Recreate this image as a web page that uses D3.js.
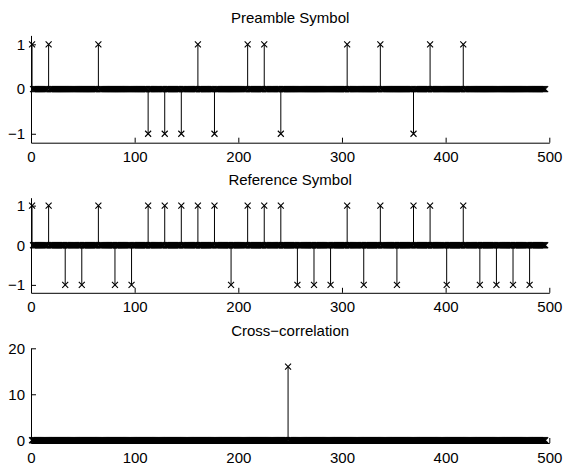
<!DOCTYPE html>
<html>
<head>
<meta charset="utf-8">
<script src="https://cdn.jsdelivr.net/npm/d3@7"></script>
<style>
  body { margin: 0; background: #fff; }
  svg { display: block; font-family: "Liberation Sans", Arial, sans-serif; }
  .tick text { font-size: 15px; fill: #000; }
  .domain, .tick line { stroke: #000; }
</style>
</head>
<body>
<svg id="chart" width="563" height="466"></svg>
<script>
// signal length and chip spacing (samples 1..496)
var sampleCount = 496;
var chipPositions = [1, 17, 33, 49, 65, 81, 97, 113, 129, 145, 161, 177, 193, 209, 225, 241,
    257, 273, 289, 305, 321, 337, 353, 369, 385, 401, 417, 433, 449, 465, 481];

// chip values
var preambleChips = [1, 1, 0, 0, 1, 0, 0, -1, -1, -1, 1, -1, 0, 1, 1, -1,
    0, 0, 0, 1, 0, 1, 0, -1, 1, 0, 1, 0, 0, 0, 0];
var referenceChips = [1, 1, -1, -1, 1, -1, -1, 1, 1, 1, 1, 1, -1, 1, 1, 1,
    -1, -1, -1, 1, -1, 1, -1, 1, 1, -1, 1, -1, -1, -1, -1];

// cross-correlation: only one non-zero lag
var crossLags = [248];
var crossValues = [16];

var xTicks = [0, 100, 200, 300, 400, 500];
var symbolTicks = [-1, 0, 1];
var crossTicks = [0, 10, 20];

var titles = ["Preamble Symbol", "Reference Symbol", "Cross\u2212correlation"];

function buildSeries(positions, values) {
    var out = [];
    for (var i = 1; i <= sampleCount; i++) out.push([i, 0]);
    positions.forEach(function (p, k) { out[p - 1][1] = values[k]; });
    return out;
}

var panels = [
    { title: titles[0], top: 35.4, bottom: 142.7, domain: [-1.2, 1.2], ticks: symbolTicks,
      data: buildSeries(chipPositions, preambleChips) },
    { title: titles[1], top: 197.7, bottom: 292.8, domain: [-1.2, 1.2], ticks: symbolTicks,
      data: buildSeries(chipPositions, referenceChips) },
    { title: titles[2], top: 348.3, bottom: 443, domain: [-0.6, 20], ticks: crossTicks,
      data: buildSeries(crossLags, crossValues) }
];

var svg = d3.select("#chart");
var x = d3.scaleLinear().domain([0, 500]).range([31, 549.3]);
var fmt = function (d) { return d < 0 ? "\u2212" + Math.abs(d) : String(d); };
var m = 3; // half size of the x marker

panels.forEach(function (p) {
    var y = d3.scaleLinear().domain(p.domain).range([p.bottom, p.top]);
    var g = svg.append("g");

    g.append("g")
        .attr("transform", "translate(0," + p.bottom + ")")
        .call(d3.axisBottom(x).tickValues(xTicks).tickSizeInner(-5).tickSizeOuter(0).tickPadding(9).tickFormat(fmt));

    g.append("g")
        .attr("transform", "translate(31,0)")
        .call(d3.axisLeft(y).tickValues(p.ticks).tickSizeInner(-5).tickSizeOuter(0).tickPadding(6).tickFormat(fmt));

    svg.selectAll(".domain").attr("fill", "none");
    g.selectAll(".tick text").attr("font-size", null).attr("font-family", null);

    // stems
    g.append("g").selectAll("line")
        .data(p.data.filter(function (d) { return d[1] !== 0; }))
        .enter().append("line")
        .attr("x1", function (d) { return x(d[0]); })
        .attr("x2", function (d) { return x(d[0]); })
        .attr("y1", y(0))
        .attr("y2", function (d) { return y(d[1]); })
        .attr("stroke", "#000")
        .attr("stroke-width", 1);

    // markers
    g.append("g").selectAll("path")
        .data(p.data)
        .enter().append("path")
        .attr("transform", function (d) { return "translate(" + x(d[0]) + "," + y(d[1]) + ")"; })
        .attr("d", "M" + (-m) + "," + (-m) + "L" + m + "," + m + "M" + (-m) + "," + m + "L" + m + "," + (-m))
        .attr("fill", "none")
        .attr("stroke", "#000")
        .attr("stroke-width", 1.1);

    g.append("text")
        .attr("x", (x(0) + x(500)) / 2)
        .attr("y", p.top - 12.8)
        .attr("text-anchor", "middle")
        .attr("font-size", 15)
        .attr("fill", "#000")
        .text(p.title);
});
</script>
</body>
</html>
